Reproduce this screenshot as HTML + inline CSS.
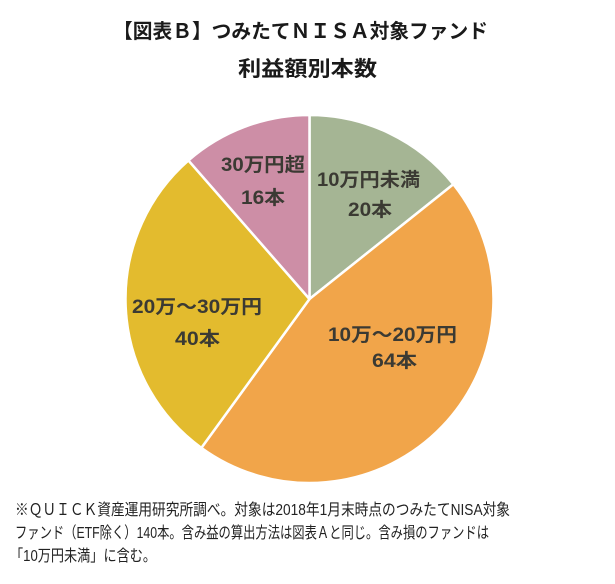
<!DOCTYPE html>
<html>
<head>
<meta charset="utf-8">
<style>
  html, body { margin:0; padding:0; background:#ffffff; }
  body { width:615px; height:584px; overflow:hidden; }
  svg { display:block; }
  .t { font-family:"Liberation Sans","Noto Sans CJK JP",sans-serif; }
</style>
</head>
<body>
<svg width="615" height="584" viewBox="0 0 615 584" xmlns="http://www.w3.org/2000/svg">
  <rect width="615" height="584" fill="#ffffff"/>

  <!-- Title -->
  <text class="t" x="113" y="38" font-size="20" font-weight="bold" fill="#1a1a1a" textLength="375" lengthAdjust="spacingAndGlyphs">【図表Ｂ】つみたてＮＩＳＡ対象ファンド</text>
  <text class="t" x="238" y="76" font-size="21" font-weight="bold" fill="#1a1a1a" textLength="139" lengthAdjust="spacingAndGlyphs">利益額別本数</text>

  <!-- Pie -->
  <g stroke="#ffffff" stroke-width="2.5" stroke-linejoin="round">
    <path d="M309.5,299 L309.5,115 A184,184 0 0 1 453.36,184.28 Z" fill="#a5b594"/>
    <path d="M309.5,299 L453.36,184.28 A184,184 0 0 1 201.35,447.86 Z" fill="#f1a54a"/>
    <path d="M309.5,299 L201.35,447.86 A184,184 0 0 1 188.43,160.44 Z" fill="#e3bb2e"/>
    <path d="M309.5,299 L188.43,160.44 A184,184 0 0 1 309.5,115 Z" fill="#cd8ea6"/>
  </g>

  <!-- Pie labels -->
  <g class="t" font-size="19" font-weight="bold" fill="#3b3a33">
    <text x="317" y="186" textLength="103" lengthAdjust="spacingAndGlyphs">10万円未満</text>
    <text x="348" y="216" textLength="44" lengthAdjust="spacingAndGlyphs">20本</text>
    <text x="328" y="341" textLength="129" lengthAdjust="spacingAndGlyphs">10万～20万円</text>
    <text x="372" y="367" textLength="45" lengthAdjust="spacingAndGlyphs">64本</text>
    <text x="132" y="313" textLength="130" lengthAdjust="spacingAndGlyphs">20万～30万円</text>
    <text x="175" y="345" textLength="45" lengthAdjust="spacingAndGlyphs">40本</text>
    <text x="221" y="171" textLength="84" lengthAdjust="spacingAndGlyphs">30万円超</text>
    <text x="241" y="204" textLength="44" lengthAdjust="spacingAndGlyphs">16本</text>
  </g>

  <!-- Footnote -->
  <g class="t" font-size="16" fill="#222222">
    <text x="15" y="515" textLength="495" lengthAdjust="spacingAndGlyphs">※ＱＵＩＣＫ資産運用研究所調べ。対象は2018年1月末時点のつみたてNISA対象</text>
    <text x="15" y="538" textLength="474" lengthAdjust="spacingAndGlyphs">ファンド（ETF除く）140本。含み益の算出方法は図表Ａと同じ。含み損のファンドは</text>
    <text x="10" y="561" textLength="146" lengthAdjust="spacingAndGlyphs">「10万円未満」に含む。</text>
  </g>
</svg>
</body>
</html>
